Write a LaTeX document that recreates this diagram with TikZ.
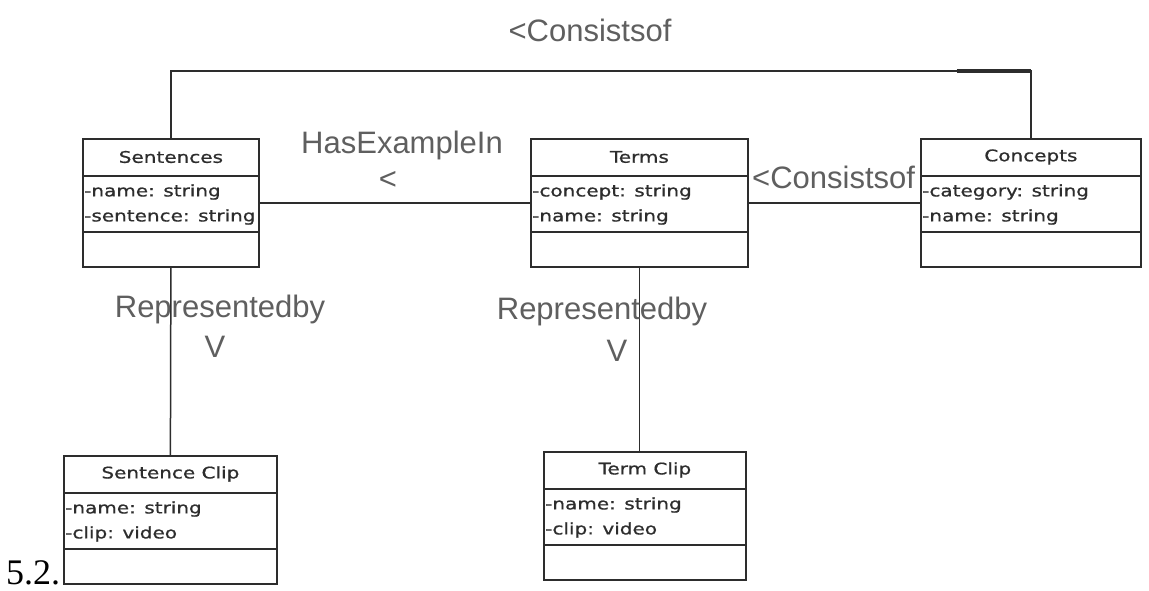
\documentclass[tikz,border=0pt]{standalone}
\usepackage{fontspec}
\setmainfont{Liberation Sans}
\newfontfamily\boxfont[FakeStretch=1.25, FakeBold=0.8]{DejaVu Sans}
\newfontfamily\numfont{Liberation Serif}
\usetikzlibrary{calc}
\definecolor{labelgray}{RGB}{95,95,95}
\definecolor{ink}{RGB}{45,45,45}
\tikzset{
  umlbox/.style={draw=ink, line width=1.8pt, inner sep=0pt, fill=white},
  sepline/.style={draw=ink, line width=2.2pt},
  classtitle/.style={font=\boxfont\fontsize{16}{18}\selectfont, text=ink, inner sep=0pt},
  classattr/.style={font=\boxfont\fontsize{16}{18}\selectfont, text=ink, inner sep=0pt, anchor=west},
  assoc/.style={draw=ink, line width=1.5pt},
  rolelabel/.style={font=\fontsize{31}{34}\selectfont, text=labelgray, inner sep=0pt},
}
% name, left, right, top, title, attr1, attr2
\newcommand\classbox[7]{%
  \node[umlbox, minimum width={#3-#2}, minimum height=128, anchor=north west] (#1) at (#2,#4) {};
  \draw[sepline] ($(#1.north west)+(0,38)$) -- ($(#1.north east)+(0,38)$);
  \draw[sepline] ($(#1.north west)+(0,94)$) -- ($(#1.north east)+(0,94)$);
  \node[classtitle] (#1-title) at ($(#1.north)+(0,19)$) {#5};
  \node[classattr] (#1-attra) at ($(#1.north west)+(2,54)$) {#6};
  \node[classattr] (#1-attrb) at ($(#1.north west)+(2,79)$) {#7};
}
\begin{document}
\begin{tikzpicture}[x=1pt, y=-1pt]
  \fill[white] (0,0) rectangle (1149,591);
  \useasboundingbox (0,0) rectangle (1149,591);

  \classbox{sentences}{82}{258}{138}{Sentences}{-name: string}{-sentence: string}
  \classbox{terms}{530}{747}{138}{Terms}{-concept: string}{-name: string}
  \classbox{concepts}{920}{1140}{138}{Concepts}{-category: string}{-name: string}
  \classbox{sentenceclip}{63}{276}{455}{Sentence Clip}{-name: string}{-clip: video}
  \classbox{termclip}{543}{745}{451}{Term Clip}{-name: string}{-clip: video}

  % connectors
  \coordinate (topline) at (0,71);
  \draw[assoc] (sentences.north) |- (concepts.north |- topline) -- (concepts.north);
  \draw[draw=ink, line width=4pt] ($(concepts.north |- topline)+(-74,0)$) -- (concepts.north |- topline);
  \draw[assoc] (sentences.east) -- (terms.west);
  \draw[assoc] (terms.east) -- (concepts.west);
  \draw[assoc] (sentences.south) -- (sentenceclip.north);
  \draw[assoc] (terms.south) -- (terms.south |- termclip.north);

  % labels
  \node[rolelabel] (lbltop) at (590,30) {<Consistsof};
  \node[rolelabel] (lblhas) at (402,145) {HasExampleIn};
  \node[rolelabel] (lblhasdir) at (388,180) {<};
  \node[rolelabel, anchor=west] (lblcons) at (752,177) {<Consistsof};
  \node[rolelabel] (lblrepa) at (220,309) {Representedby};
  \node[rolelabel] (lblrepadir) at (215,347) {V};
  \node[rolelabel] (lblrepb) at (602,311) {Representedby};
  \node[rolelabel] (lblrepbdir) at (617,351) {V};
  \node[font=\numfont\fontsize{36}{40}\selectfont, inner sep=0pt, anchor=base west] (fignum) at (6,584) {5.2.};
\end{tikzpicture}
\end{document}
